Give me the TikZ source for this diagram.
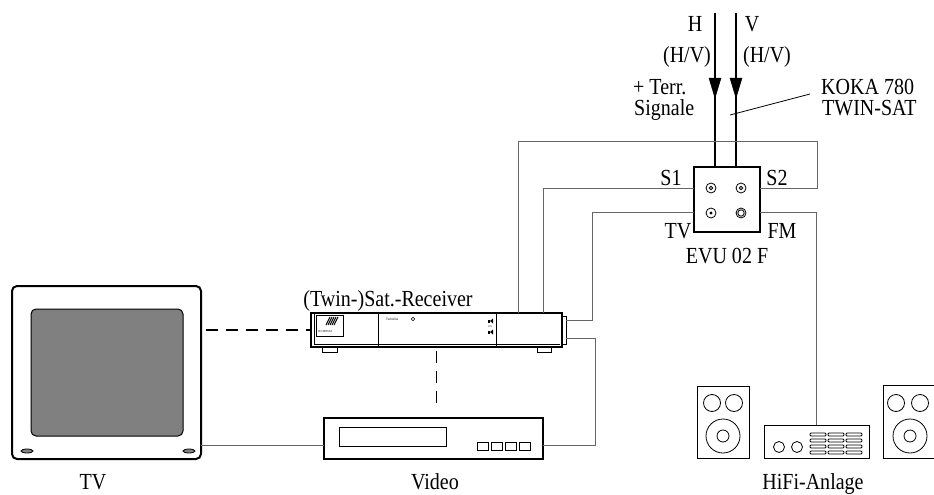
\documentclass[tikz,border=0pt]{standalone}
\usepackage{fontspec}
\setmainfont{Liberation Serif}[FakeStretch=0.87]
\usetikzlibrary{arrows.meta, calc}

\begin{document}
\begin{tikzpicture}[x=1pt, y=-1pt, >=Latex, line join=miter,
	font=\fontsize{23}{26}\selectfont,
	wire/.style={black!60, line width=1pt},
	dashline/.style={line width=1.6pt, dash pattern=on 12pt off 8pt},
	feed/.style={line width=2.2pt},
	tip/.style={fill=black, draw=black, line width=0.5pt},
	lbl/.style={anchor=base, inner sep=0pt, text height=14pt, text depth=2pt},
	device/.style={draw, inner sep=0pt, line width=1.1pt}]

\useasboundingbox (0,0) rectangle (934,495);

%========================
% Sat feed + EVU 02 F
%========================
\node[device, line width=2.5pt, minimum width=66pt, minimum height=65pt] (evu) at (727,199.5) {};
\coordinate (hTop) at (715,13);
\coordinate (vTop) at (736,13);
\coordinate (hTip) at (715,98);
\coordinate (vTip) at (736,98);
\draw[feed] (hTop) -- (evu.north -| hTop);
\draw[feed] (vTop) -- (evu.north -| vTop);
% arrow heads
\path[tip] (709,78) -- (721,78) -- (hTip) -- cycle;
\path[tip] (730,78) -- (742,78) -- (vTip) -- cycle;

% sockets
\draw[line width=0.8pt] (711,188) circle (5pt) (711,188) circle (1.8pt);
\draw[line width=0.8pt] (741,188) circle (5pt) (741,188) circle (1.8pt);
\draw[line width=0.8pt] (711,213) circle (5pt);
\fill (711,213) circle (1.6pt);
\draw[line width=0.8pt] (741,213) circle (5pt) (741,213) circle (3.2pt);

% ports
\coordinate (s1) at (694,188);
\coordinate (s2) at (760,188);
\coordinate (tvo) at (694,212);
\coordinate (fmo) at (760,212);

\node[lbl] (labH) at (695,32) {H};
\node[lbl] (labV) at (752,32) {V};
\node[lbl] (labHVa) at (687,63) {(H/V)};
\node[lbl] (labHVb) at (767,63) {(H/V)};
\node[lbl, anchor=base west] (labTerr) at (633,95) {+ Terr.};
\node[lbl, anchor=base west] (labSig) at (634,115) {Signale};
\node[lbl, anchor=base west] (labKoka) at (821,95) {KOKA 780};
\node[lbl, anchor=base west] (labTwin) at (822,115) {TWIN-SAT};
\coordinate (cable) at (730,115);
\draw[line width=0.8pt] (cable) -- (810,94);

\node[lbl] (labS1) at (671,185) {S1};
\node[lbl] (labS2) at (777,185) {S2};
\node[lbl] (labTVp) at (678,238) {TV};
\node[lbl] (labFM) at (782,238) {FM};
\node[lbl] (labEvu) at (727,263) {EVU 02 F};

%========================
% Receiver
%========================
\node[device, minimum width=251pt, minimum height=34pt] (rec) at (436.5,330) {};
\node[lbl] (labRec) at (388,306) {(Twin-)Sat.-Receiver};
\draw[line width=0.8pt] (378,313) -- (378,347) (496,313) -- (496,347);
\draw[line width=0.5pt] (314,313) -- (314,344) -- (560,344);
\draw[line width=0.8pt] (322,347) rectangle (337,352) (537,347) rectangle (551,352);
\draw[line width=0.8pt] (562,316) -- (566,316) -- (566,344) -- (562,344);
% logo
\draw[line width=0.5pt] (316,315) rectangle (343,336);
\foreach \i in {0,...,4}
	\draw[line width=1pt] (326+2*\i,325) -- (330+2*\i,317);
\node[font=\fontsize{3}{3}\selectfont, inner sep=0pt] (logoTxt) at (325,332) {TECHNISAT};
\node[font=\fontsize{3.5}{4}\selectfont, inner sep=0pt, anchor=west] (recTxt) at (386,319) {TechniSat};
\draw[line width=0.5pt] (413,319) circle (1.8pt);
\fill (488,319.5) rectangle (490,322.5);
\fill (490,321) -- (493,318.5) -- (493,323.5) -- cycle;
\fill (488,330.5) rectangle (490,333.5);
\fill (490,332) -- (493,329.5) -- (493,334.5) -- cycle;
\node[font=\fontsize{2.5}{3}\selectfont, inner sep=0pt] (recVol) at (490,326.5) {VOL};

\coordinate (rin1) at (518,313);
\coordinate (rin2) at (543,313);
\coordinate (rtv) at (566,320);
\coordinate (rout) at (566,338);

%========================
% TV
%========================
\node[device, line width=2pt, rounded corners=5pt, minimum width=189pt, minimum height=173pt] (tv) at (106.5,372.5) {};
\draw[line width=1pt, fill=black!50, rounded corners=5pt] (31,309) rectangle (183,436);
\draw[line width=0.8pt, fill=black!50] (27,451) ellipse (6pt and 2pt) (189,451) ellipse (6pt and 2pt);
\node[lbl] (labTV) at (93,489) {TV};
\coordinate (tvin) at (201,445);

%========================
% Video
%========================
\node[device, line width=1.3pt, minimum width=219pt, minimum height=41pt] (video) at (433.5,438.5) {};
\draw[line width=0.8pt] (339,427) rectangle (446,446);
\foreach \i in {0,...,3}
	\draw[line width=0.8pt] (477+14*\i,442) rectangle ++(11,8);
\node[lbl] (labVideo) at (435,489) {Video};
\coordinate (vin) at (543,445);
\coordinate (vout) at (324,445);

%========================
% HiFi
%========================
\draw[line width=0.8pt] (697,386) rectangle (749,458);
\draw[line width=0.8pt] (712,403) circle (8.5pt) (734,403) circle (8.5pt)
	(723,436) circle (17pt) (723,436) circle (6pt);
\node[device, line width=0.8pt, minimum width=105pt, minimum height=33pt] (amp) at (816.5,441.5) {};
\draw[line width=0.8pt] (779,447) circle (5.5pt) (797,447) circle (5.5pt);
\foreach \c in {0,1,2}
	\foreach \r in {0,...,3}
		\draw[line width=0.8pt, rounded corners=1pt] (810+18*\c,433+6*\r) rectangle ++(16,3);
\draw[line width=0.8pt] (883,385) rectangle (936,458);
\draw[line width=0.8pt] (896,403) circle (8.5pt) (920,403) circle (8.5pt)
	(910,436) circle (17pt) (910,436) circle (6pt);
\node[lbl] (labHifi) at (813,489) {HiFi-Anlage};

%========================
% Cabling
%========================
\draw[wire] (s2) -| (817,141) -| (rin1);
\draw[wire] (s1) -| (rin2);
\draw[wire] (tvo) -| (592,320) -- (rtv);
\draw[wire] (rout) -| (595,445) -- (vin);
\draw[wire] (fmo) -| (amp.north);
\draw[wire] (tvin) -- (vout);
\draw[dashline, shorten <=4pt] (tv.east |- rec.west) -- (rec.west);
\draw[dashline, line width=1.2pt, shorten <=3pt, shorten >=8pt] (rec.south) -- (video.north -| rec.south);

\end{tikzpicture}
\end{document}
